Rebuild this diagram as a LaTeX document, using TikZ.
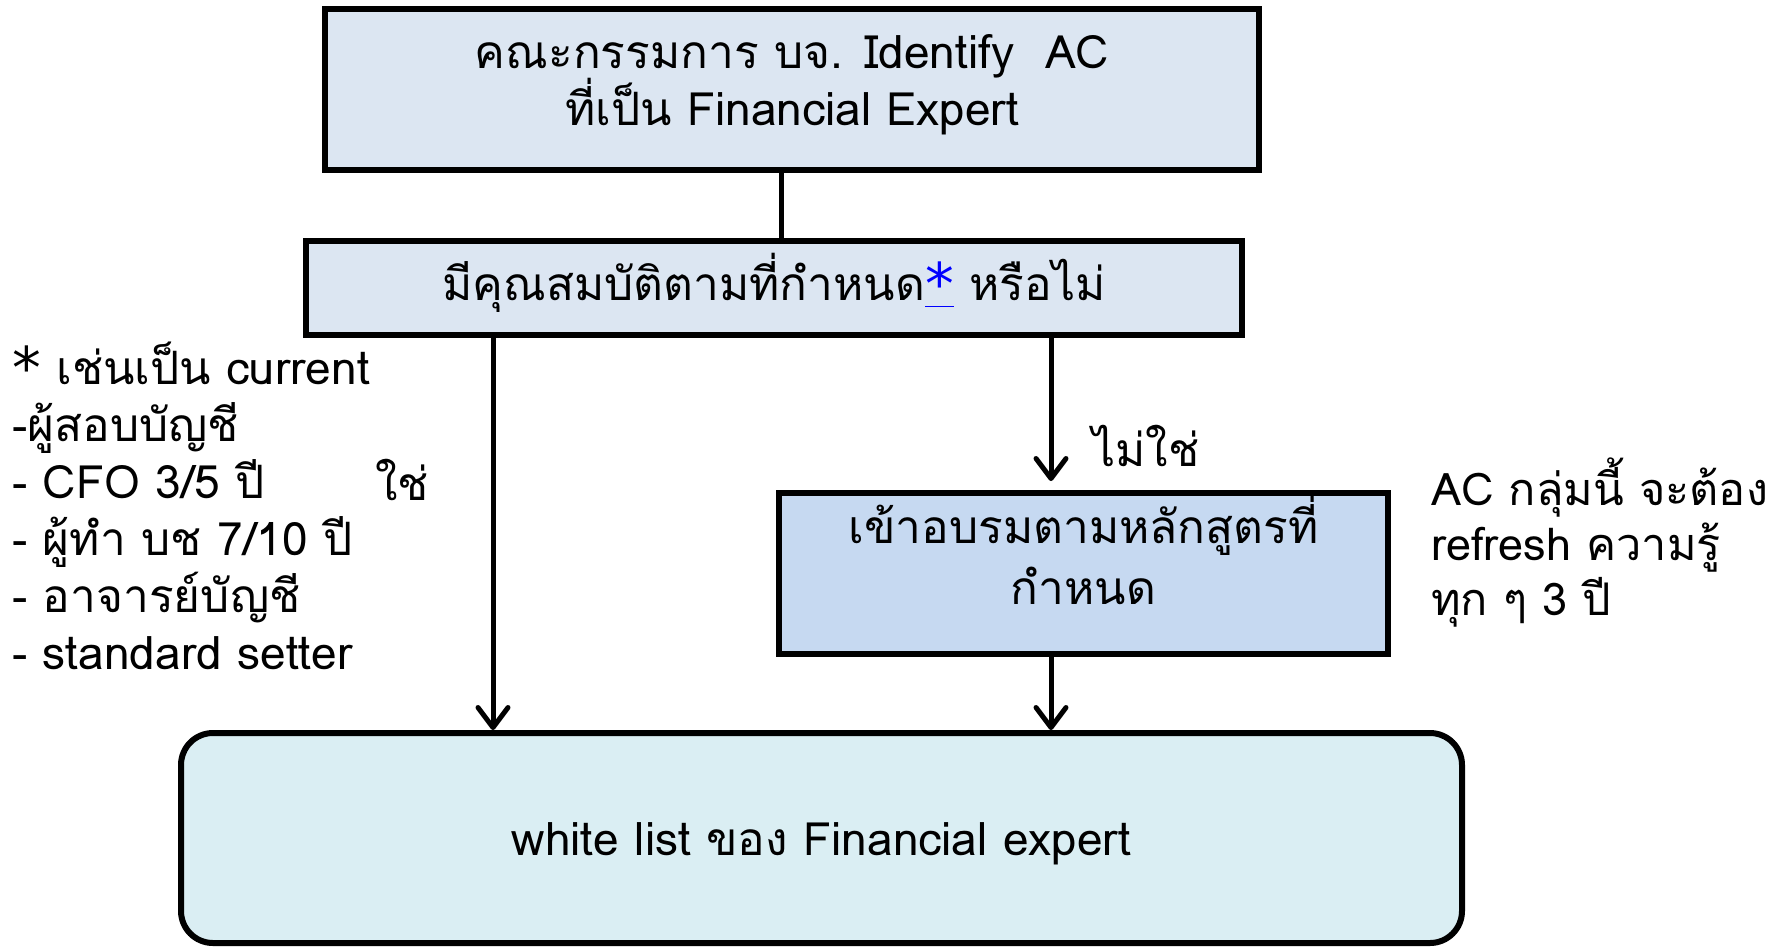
\documentclass[tikz,border=0pt]{standalone}
\usepackage{fontspec}
\setmainfont[Script=Thai]{Loma}
\newfontfamily\dvfont{DejaVu Sans}
\usetikzlibrary{arrows.meta}
\definecolor{boxA}{HTML}{DCE6F2}
\definecolor{boxB}{HTML}{C6D9F1}
\definecolor{boxC}{HTML}{DAEEF3}
\newcommand{\bigast}{{\dvfont\raisebox{-4pt}{\scalebox{1.25}{*}}}}
\newcommand{\shiftup}[2]{\raisebox{#1}[\height][\depth]{#2}}
\tikzset{
  flowbox/.style={draw=black, line width=6pt, align=center, inner sep=0pt, font=\fontsize{46}{57}\selectfont},
  conn/.style={line width=5pt},
  arr/.style={line width=5pt, -{Straight Barb[length=20pt,width=30pt,line width=5pt,round]}},
  lbl/.style={font=\fontsize{46}{57}\selectfont, inner sep=0pt},
}
\begin{document}
\begin{tikzpicture}[x=1pt,y=-1pt]
\useasboundingbox (0,0) rectangle (1777,946);
\node[flowbox, fill=boxA, minimum width=934pt, minimum height=161pt] (top) at (792,89.5)
  {\shiftup{4pt}{\begin{tabular}{@{}c@{}}คณะกรรมการ บจ. Identify\ \ AC\\[-8pt]ที่เป็น Financial Expert\end{tabular}}};
\node[flowbox, fill=boxA, minimum width=936pt, minimum height=94pt] (mid) at (774,288)
  {\shiftup{5pt}{มีคุณสมบัติตามที่กำหนด\textcolor{blue}{\underline{\bigast}} หรือไม่}};
\node[flowbox, fill=boxB, minimum width=609pt, minimum height=161pt] (train) at (1083.5,573.5)
  {\shiftup{15pt}{\begin{tabular}{@{}c@{}}เข้าอบรมตามหลักสูตรที่\\[4pt]กำหนด\end{tabular}}};
\node[flowbox, fill=boxC, rounded corners=32pt, minimum width=1281pt, minimum height=210pt] (white) at (821.5,838)
  {\shiftup{-6pt}{white list ของ Financial expert}};
\draw[conn] (top.south -| 781,0) -- (mid.north -| 781,0);
\draw[arr] (mid.south -| 493,0) -- (white.north -| 493,0);
\draw[arr, shorten >=9pt] (mid.south -| 1051,0) -- (train.north -| 1051,0);
\draw[arr] (train.south -| 1051,0) -- (white.north -| 1051,0);
\node[lbl, anchor=west, align=left] (note) at (12,506)
  {\bigast{} เช่นเป็น current\\-ผู้สอบบัญชี\\- CFO 3/5 ปี\\- ผู้ทำ บช 7/10 ปี\\- อาจารย์บัญชี\\- standard setter};
\node[lbl, anchor=west] (yes) at (375,480) {ใช่};
\node[lbl, anchor=west] (no) at (1092,446) {ไม่ใช่};
\node[lbl, anchor=west, align=left, font=\fontsize{45}{55}\selectfont] (refresh) at (1431,543)
  {AC กลุ่มนี้ จะต้อง\\refresh ความรู้\\ทุก ๆ 3 ปี};
\end{tikzpicture}
\end{document}
